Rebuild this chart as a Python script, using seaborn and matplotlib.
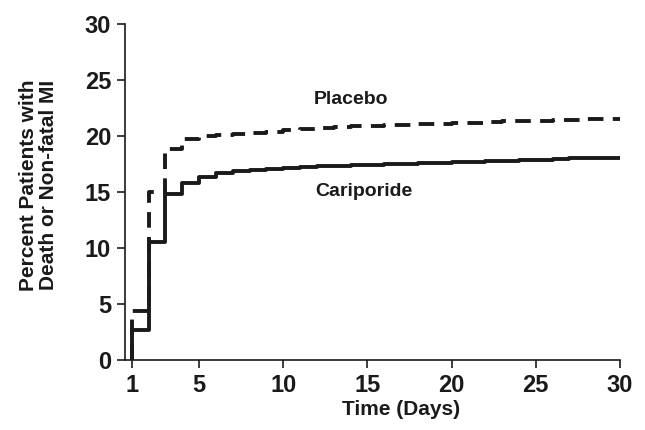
import matplotlib
matplotlib.use('Agg')
import matplotlib.pyplot as plt
import seaborn as sns
import pandas as pd

# data (cumulative % at each day)
days = list(range(1, 31))
cariporide = [2.7, 10.5, 14.8, 15.8, 16.3, 16.7, 16.85, 16.95, 17.05, 17.1,
              17.2, 17.3, 17.35, 17.4, 17.45, 17.5, 17.5, 17.55, 17.6, 17.65,
              17.7, 17.75, 17.8, 17.85, 17.9, 17.95, 18.05, 18.05, 18.05, 18.05]
placebo = [4.4, 15.0, 18.8, 19.7, 20.0, 20.1, 20.2, 20.3, 20.4, 20.5,
           20.6, 20.7, 20.8, 20.85, 20.9, 20.95, 21.0, 21.05, 21.1, 21.15,
           21.2, 21.25, 21.3, 21.3, 21.35, 21.4, 21.45, 21.5, 21.5, 21.5]
x_ticks = [1, 5, 10, 15, 20, 25, 30]
y_ticks = [0, 5, 10, 15, 20, 25, 30]

# start both curves at 0 on day 1
car_df = pd.DataFrame({"day": [days[0]] + days, "pct": [0.0] + cariporide})
pla_df = pd.DataFrame({"day": [days[0]] + days, "pct": [0.0] + placebo})

sns.set_style("ticks")
plt.rcParams['font.family'] = ['Liberation Sans', 'DejaVu Sans']
plt.rcParams['font.weight'] = 'bold'

ink = "#1a1a1a"
fig = plt.figure(figsize=(6.45, 4.3), dpi=100)
ax = fig.add_axes([0.1938, 0.1628, 0.7674, 0.7814])

sns.lineplot(data=pla_df, x="day", y="pct", ax=ax, estimator=None, sort=False,
             drawstyle="steps-post", color=ink, linewidth=2.8,
             dashes=False, linestyle=(0, (4.0, 2.4)))
sns.lineplot(data=car_df, x="day", y="pct", ax=ax, estimator=None, sort=False,
             drawstyle="steps-post", color=ink, linewidth=2.8)

ax.set_xlim(0.6, 30)
ax.set_ylim(0, 30)
ax.set_xticks(x_ticks)
ax.set_yticks(y_ticks)
ax.tick_params(axis='both', labelsize=17, width=1.2, length=6, color=ink,
               labelcolor=ink, pad=4)
for lab in ax.get_xticklabels() + ax.get_yticklabels():
    lab.set_fontweight('bold')

sns.despine(ax=ax)
for s in ['left', 'bottom']:
    ax.spines[s].set_linewidth(1.2)
    ax.spines[s].set_color(ink)

ax.set_xlabel("Time (Days)", fontsize=15, fontweight='bold', color=ink)
ax.xaxis.set_label_coords(0.558, -0.12)
ax.set_ylabel("Percent Patients with\nDeath or Non-fatal MI", fontsize=15,
              fontweight='bold', color=ink, linespacing=1.05)
ax.yaxis.set_label_coords(-0.135, 0.52)

# annotations placed in pixel coords (origin bottom-left)
ax.text(351, 430 - 100, "Placebo", transform=None, fontsize=14,
        fontweight='bold', color=ink, ha='center', va='center')
ax.text(364, 430 - 192, "Cariporide", transform=None, fontsize=14,
        fontweight='bold', color=ink, ha='center', va='center')

fig.savefig("out.png", dpi=100)
